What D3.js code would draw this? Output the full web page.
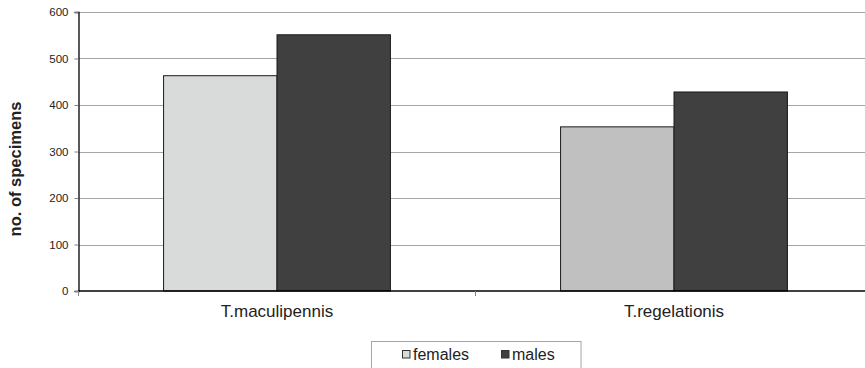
<!DOCTYPE html>
<html>
<head>
<meta charset="utf-8">
<script src="https://cdn.jsdelivr.net/npm/d3@7/dist/d3.min.js"></script>
<style>
  html, body { margin: 0; padding: 0; background: #fff; }
  svg { display: block; font-family: "Liberation Sans", Arial, sans-serif; }
</style>
</head>
<body>
<svg id="chart" width="865" height="368"></svg>
<script>
const categories = ["T.maculipennis", "T.regelationis"];
const seriesNames = ["females", "males"];
const females = [463, 353];
const males = [551, 428];
const yTicks = [0, 100, 200, 300, 400, 500, 600];

const fillFor = {
  females: ["#d9dada", "#c0c0c0"],
  males: ["#404040", "#404040"]
};
const legendFill = { females: "#d9dada", males: "#404040" };

const svg = d3.select("#chart");
const plotLeft = 78.5, plotRight = 872.5, plotTop = 12, plotBottom = 291;

const y = d3.scaleLinear().domain([0, 600]).range([plotBottom, plotTop]);
const x0 = d3.scaleBand().domain(categories).range([plotLeft, plotRight]).padding(0);
const x1 = d3.scaleBand().domain(seriesNames).range([0, x0.bandwidth()]).paddingInner(0).paddingOuter(0.75);

// gridlines
svg.append("g").selectAll("line").data(yTicks.filter(d => d > 0)).join("line")
  .attr("x1", plotLeft).attr("x2", plotRight)
  .attr("y1", d => Math.round(y(d)) + 0.5).attr("y2", d => Math.round(y(d)) + 0.5)
  .attr("stroke", "#a6a6a6").attr("stroke-width", 1);

// bars
const values = { females, males };
const g = svg.append("g");
seriesNames.forEach(s => {
  g.selectAll(null).data(categories).join("rect")
    .attr("x", (c) => x0(c) + x1(s))
    .attr("y", (c, i) => y(values[s][i]))
    .attr("width", x1.bandwidth())
    .attr("height", (c, i) => y(0) - y(values[s][i]))
    .attr("fill", (c, i) => fillFor[s][i])
    .attr("stroke", "#1a1a1a").attr("stroke-width", 1);
});

// y axis
const yAxis = d3.axisLeft(y).tickValues(yTicks).tickSize(4).tickPadding(6);
const ya = svg.append("g").attr("transform", `translate(${plotLeft},0)`).call(yAxis);
ya.select(".domain").attr("stroke", "#000").attr("stroke-width", 1.3);
ya.selectAll(".tick line").attr("stroke", "#808080");
ya.selectAll(".tick text").attr("font-size", 11.5).attr("fill", "#222")
  .attr("font-family", "Liberation Sans, Arial, sans-serif");

// x axis
const xa = svg.append("g").attr("transform", `translate(0,${plotBottom})`);
xa.append("line").attr("x1", plotLeft).attr("x2", plotRight).attr("y1", 0).attr("y2", 0)
  .attr("stroke", "#000").attr("stroke-width", 1.3);
const bounds = [plotLeft, ...categories.map(c => x0(c) + x0.bandwidth())];
xa.selectAll(".xt").data(bounds).join("line")
  .attr("x1", d => d).attr("x2", d => d).attr("y1", 0).attr("y2", 5)
  .attr("stroke", "#808080");
xa.selectAll(".xl").data(categories).join("text")
  .attr("x", c => x0(c) + x0.bandwidth() / 2).attr("y", 25.5)
  .attr("text-anchor", "middle").attr("font-size", 17).attr("fill", "#222")
  .text(c => c);

// y title
svg.append("text")
  .attr("transform", `translate(20.5,169) rotate(-90)`)
  .attr("text-anchor", "middle").attr("font-size", 16.5).attr("font-weight", "bold")
  .attr("fill", "#222").text("no. of specimens");

// legend
const lg = svg.append("g");
lg.append("rect").attr("x", 371.5).attr("y", 341.5).attr("width", 209.5).attr("height", 40)
  .attr("fill", "#fff").attr("stroke", "#a6a6a6");
const legX = { females: 402.5, males: 501.5 };
seriesNames.forEach(s => {
  lg.append("rect").attr("x", legX[s]).attr("y", 350.5).attr("width", 7.5).attr("height", 7.5)
    .attr("fill", legendFill[s]).attr("stroke", "#333");
  lg.append("text").attr("x", legX[s] + 10.5).attr("y", 359.5)
    .attr("font-size", 16).attr("fill", "#222").text(s);
});
</script>
</body>
</html>
